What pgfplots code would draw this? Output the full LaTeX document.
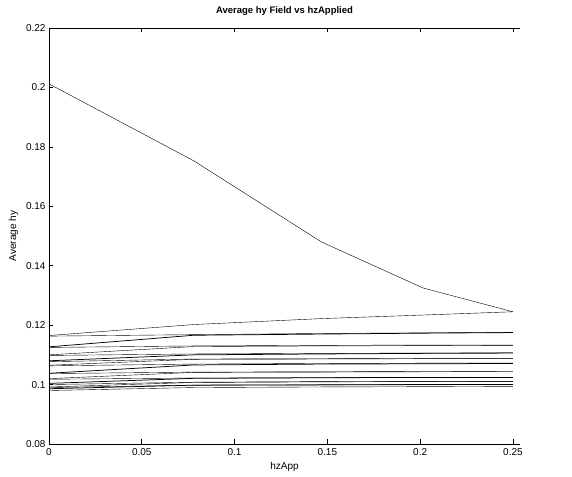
\documentclass[border=0pt]{standalone}
\usepackage{pgfplots}
\pgfplotsset{compat=1.18}
\usepackage{fontspec}
\setmainfont{Liberation Sans}
\usetikzlibrary{calc}
\begin{document}
\begin{tikzpicture}
\begin{axis}[
  name=ax,
  scale only axis,
  width=471pt, height=416pt,
  xmin=0, xmax=0.2538,
  ymin=0.08, ymax=0.22,
  xtick={0,0.05,0.1,0.15,0.2,0.25},
  ytick={0.08,0.1,0.12,0.14,0.16,0.18,0.2,0.22},
  scaled ticks=false,
  /pgf/number format/assume math mode=true,
  /pgf/number format/fixed,
  /pgf/number format/precision=2,
  axis y line*=left,
  y axis line style={-},
  axis line style={line width=0.9pt},
  major tick length=4.5pt,
  tick style={line width=0.6pt, black},
  tick label style={font=\fontsize{10}{12}\selectfont},
  xticklabel style={yshift=-0.5pt},
  title={Average hy Field vs hzApplied},
  title style={font=\fontsize{9.5}{11}\selectfont\bfseries, yshift=3pt},
  xlabel={hzApp},
  ylabel={Average hy},
  label style={font=\fontsize{10}{12}\selectfont},
  xlabel style={yshift=-0.5pt},
  ylabel style={yshift=1pt},
  cycle list={{black, solid, mark=none, line width=0.75pt}},
]
% descending top line
\addplot coordinates {(0,0.2012) (0.078,0.1753) (0.1468,0.1480) (0.2016,0.1325) (0.25,0.1245)};
% rising line meeting the top line
\addplot coordinates {(0,0.1165) (0.078,0.1202) (0.1468,0.1222) (0.2016,0.1234) (0.25,0.1245)};
% nearly flat lines
\addplot coordinates {(0,0.1163) (0.078,0.1168) (0.1468,0.1172) (0.2016,0.1174) (0.25,0.1176)};
\addplot coordinates {(0,0.1127) (0.078,0.1166) (0.1468,0.1170) (0.2016,0.1173) (0.25,0.1175)};
\addplot coordinates {(0,0.1125) (0.078,0.1130) (0.1468,0.1132) (0.2016,0.1133) (0.25,0.1133)};
\addplot coordinates {(0,0.1100) (0.078,0.1128) (0.1468,0.1130) (0.2016,0.1131) (0.25,0.1132)};
\addplot coordinates {(0,0.1098) (0.078,0.1103) (0.1468,0.1105) (0.2016,0.1106) (0.25,0.1107)};
\addplot coordinates {(0,0.1080) (0.078,0.1100) (0.1468,0.1103) (0.2016,0.1105) (0.25,0.1106)};
\addplot coordinates {(0,0.1077) (0.078,0.1086) (0.1468,0.1087) (0.2016,0.1088) (0.25,0.1088)};
\addplot coordinates {(0,0.1065) (0.078,0.1085) (0.1468,0.1086) (0.2016,0.1087) (0.25,0.1087)};
\addplot coordinates {(0,0.1063) (0.078,0.1069) (0.1468,0.1071) (0.2016,0.1072) (0.25,0.1072)};
\addplot coordinates {(0,0.1038) (0.078,0.1066) (0.1468,0.1069) (0.2016,0.1070) (0.25,0.1071)};
\addplot coordinates {(0,0.1037) (0.078,0.1042) (0.1468,0.1043) (0.2016,0.1044) (0.25,0.1044)};
\addplot coordinates {(0,0.1020) (0.078,0.1041) (0.1468,0.1042) (0.2016,0.1043) (0.25,0.1044)};
\addplot coordinates {(0,0.1018) (0.078,0.1022) (0.1468,0.1023) (0.2016,0.1024) (0.25,0.1024)};
\addplot coordinates {(0,0.1004) (0.078,0.1021) (0.1468,0.1023) (0.2016,0.1024) (0.25,0.1024)};
\addplot coordinates {(0,0.1000) (0.078,0.1008) (0.1468,0.1010) (0.2016,0.1011) (0.25,0.1011)};
\addplot coordinates {(0,0.0992) (0.078,0.1007) (0.1468,0.1009) (0.2016,0.1010) (0.25,0.1011)};
\addplot coordinates {(0,0.0990) (0.078,0.0998) (0.1468,0.0999) (0.2016,0.1000) (0.25,0.1000)};
\addplot coordinates {(0,0.0986) (0.078,0.0998) (0.1468,0.0999) (0.2016,0.1000) (0.25,0.1000)};
\addplot coordinates {(0,0.0980) (0.078,0.0990) (0.1468,0.0992) (0.2016,0.0993) (0.25,0.0994)};
\end{axis}
\pgfresetboundingbox
\path[use as bounding box] ($(ax.south west)+(-49pt,-32pt)$) rectangle ($(ax.south west)+(523pt,444pt)$);
\end{tikzpicture}
\end{document}
